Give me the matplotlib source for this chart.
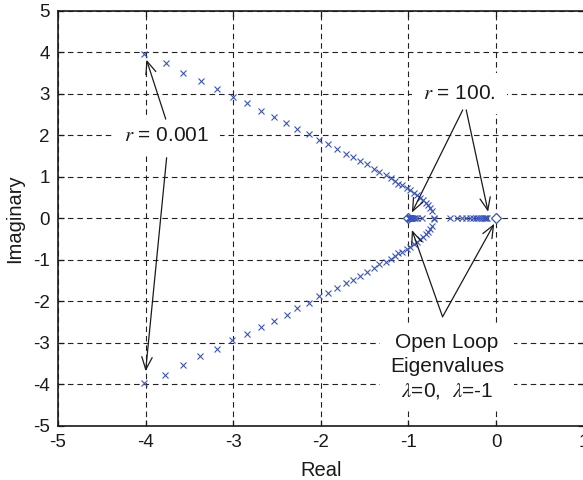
import matplotlib
matplotlib.use("Agg")
import matplotlib.pyplot as plt

plt.rcParams['font.family'] = ['Liberation Sans', 'DejaVu Sans']
plt.rcParams['mathtext.fontset'] = 'stix'
plt.rcParams['axes.unicode_minus'] = False

# Closed-loop eigenvalues (upper complex branch)
upper_re = [-4.02, -3.77, -3.57, -3.37, -3.18, -3.00, -2.84, -2.68, -2.53, -2.40,
            -2.27, -2.14, -2.02, -1.92, -1.81, -1.71, -1.63, -1.55, -1.47, -1.39,
            -1.33, -1.26, -1.20, -1.15, -1.12, -1.07, -1.02, -0.98, -0.94, -0.90,
            -0.87, -0.83, -0.80, -0.78, -0.75, -0.73, -0.71]
upper_im = [3.95, 3.74, 3.50, 3.30, 3.12, 2.91, 2.78, 2.59, 2.45, 2.29,
            2.15, 2.03, 1.88, 1.80, 1.68, 1.56, 1.48, 1.38, 1.30, 1.20,
            1.11, 1.04, 0.98, 0.90, 0.83, 0.80, 0.74, 0.68, 0.62, 0.56,
            0.50, 0.44, 0.38, 0.32, 0.26, 0.18, 0.02]
# Lower complex branch
lower_re = [-4.02, -3.78, -3.57, -3.38, -3.19, -3.01, -2.84, -2.68, -2.53, -2.39,
            -2.27, -2.14, -2.02, -1.92, -1.81, -1.71, -1.63, -1.55, -1.47, -1.39,
            -1.33, -1.26, -1.20, -1.15, -1.12, -1.07, -1.02, -0.98, -0.94, -0.90,
            -0.87, -0.83, -0.80, -0.78, -0.75, -0.73, -0.71]
lower_im = [-3.96, -3.76, -3.53, -3.32, -3.14, -2.94, -2.78, -2.61, -2.46, -2.32,
            -2.17, -2.03, -1.88, -1.80, -1.68, -1.56, -1.48, -1.38, -1.30, -1.20,
            -1.11, -1.04, -0.98, -0.90, -0.83, -0.80, -0.74, -0.68, -0.62, -0.56,
            -0.50, -0.44, -0.38, -0.32, -0.26, -0.18, -0.02]
# Real closed-loop eigenvalues after the break-away point
real_fast = [-0.85, -0.90, -0.92, -0.94, -0.955, -0.966, -0.973, -0.979, -0.984,
             -0.987, -0.990, -0.992, -0.994, -0.995]
real_slow = [-0.53, -0.44, -0.39, -0.34, -0.30, -0.26, -0.23, -0.20, -0.18,
             -0.16, -0.14, -0.13, -0.11, -0.10]
# Open-loop eigenvalues
open_loop = [0.0, -1.0]

x_ticks = [-5, -4, -3, -2, -1, 0, 1]
y_ticks = [-5, -4, -3, -2, -1, 0, 1, 2, 3, 4, 5]

fig = plt.figure(figsize=(5.83, 4.80), dpi=100)
W, H = 583.0, 480.0
ax = fig.add_axes([58 / W, 1 - 426 / H, (583.6 - 58) / W, (426 - 10.7) / H])

blue = '#3a55c0'
mk = dict(linestyle='none', marker='x', markersize=4, markeredgewidth=0.8,
          color=blue, zorder=3)
ax.plot(upper_re, upper_im, **mk)
ax.plot(lower_re, lower_im, **mk)
ax.plot(real_fast, [0] * len(real_fast), **mk)
ax.plot(real_slow, [0] * len(real_slow), **mk)
ax.plot(open_loop, [0] * len(open_loop), linestyle='none', marker='D',
        markersize=5.5, markerfacecolor='white', markeredgecolor=blue,
        markeredgewidth=0.9, zorder=2.9)

ax.set_xlim(-5, 1)
ax.set_ylim(-5, 5)
ax.set_xticks(x_ticks)
ax.set_yticks(y_ticks)
ax.grid(True, color='#222222', linestyle=(0, (5, 3.5)), linewidth=0.8)
ax.set_axisbelow(True)
ax.tick_params(direction='in', length=4, width=0.9, labelsize=13.5,
               top=True, right=True, pad=6, colors='#1a1a1a')
for s in ax.spines.values():
    s.set_linewidth(1.2)
    s.set_color('#1a1a1a')

ax.set_xlabel('Real', fontsize=14.5, va='center', color='#1a1a1a')
ax.xaxis.set_label_coords(0.5, -0.106)
ax.set_ylabel('Imaginary', fontsize=14.5, va='center', ha='center', color='#1a1a1a')
ax.yaxis.set_label_coords(-0.083, 0.5)

box = dict(facecolor='white', edgecolor='none')
ax.text(-3.76, 2.0, r'$r$ = 0.001', ha='center', va='center', fontsize=15,
        color='#1a1a1a', bbox=dict(box, pad=8), zorder=4)
ax.text(-0.42, 3.0, r'$r$ = 100.', ha='center', va='center', fontsize=15,
        color='#1a1a1a', bbox=dict(box, pad=8), zorder=4)
ax.text(-0.56, -3.58, 'Open Loop\nEigenvalues\n' + r'$\lambda$=0,  $\lambda$=-1',
        ha='center', va='center', multialignment='center', fontsize=15,
        linespacing=1.3, color='#1a1a1a', bbox=dict(box, pad=7), zorder=4)

arrow = dict(arrowstyle='->,head_length=0.6,head_width=0.25', color='#1a1a1a',
             lw=0.9, shrinkA=0, shrinkB=0, mutation_scale=15)
arrows = [((-3.77, 2.39), (-3.99, 3.82)),
          ((-3.76, 1.46), (-4.00, -3.68)),
          ((-0.38, 2.61), (-0.96, 0.14)),
          ((-0.34, 2.61), (-0.09, 0.16)),
          ((-0.61, -2.37), (-0.96, -0.28)),
          ((-0.61, -2.37), (-0.02, -0.13))]
for start, tip in arrows:
    ax.annotate('', xy=tip, xytext=start, arrowprops=arrow, zorder=5)

fig.savefig('out.png', dpi=100)
